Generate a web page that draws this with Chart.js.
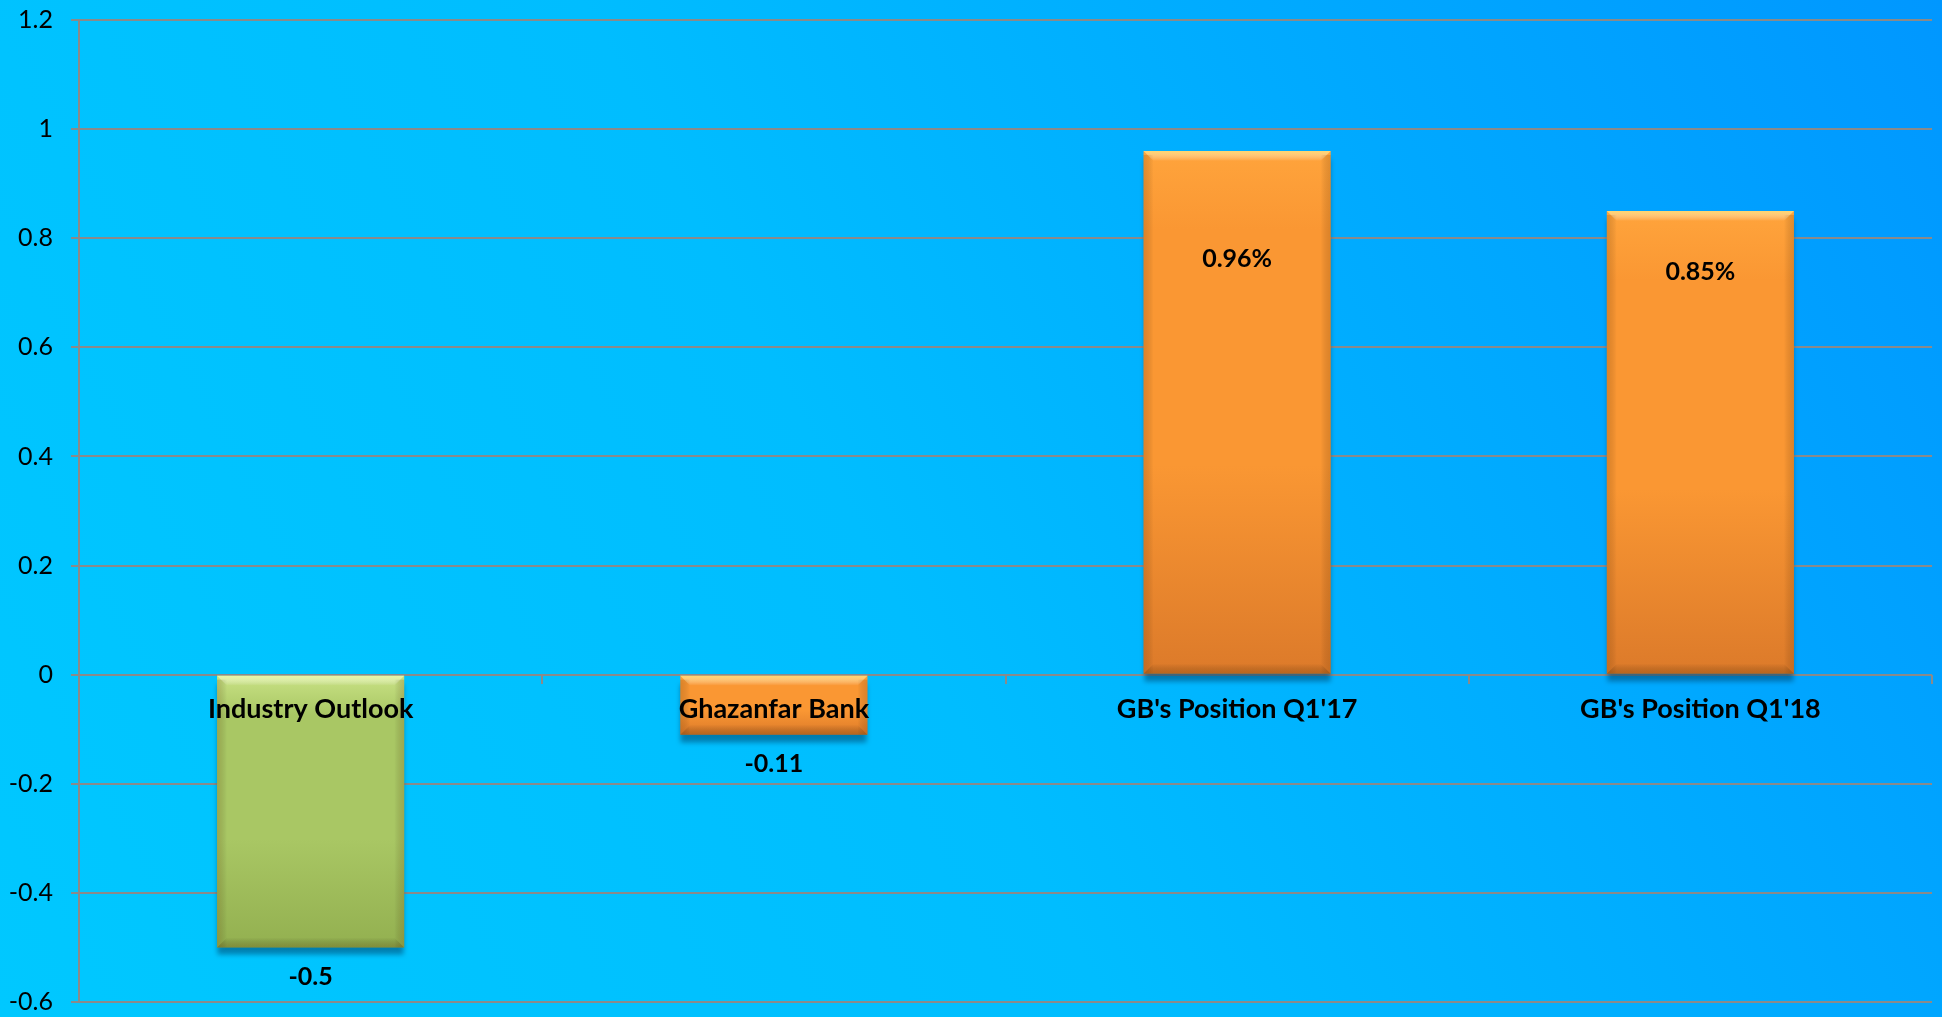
<!DOCTYPE html>
<html><head><meta charset="utf-8">
<script src="https://cdn.jsdelivr.net/npm/chart.js@4"></script>
<style>
html,body{margin:0;padding:0;overflow:hidden;background:#00b4ff}
#wrap{width:1942px;height:1017px;position:relative}
canvas{display:block}
</style></head>
<body><div id="wrap"><canvas id="c" width="1942" height="1017"></canvas></div>
<script>
// ---- data ----
const categories = ["Industry Outlook", "Ghazanfar Bank", "GB's Position Q1'17", "GB's Position Q1'18"];
const values = [-0.5, -0.11, 0.96, 0.85];
const valueLabels = ["-0.5", "-0.11", "0.96%", "0.85%"];
const yTickValues = [-0.6, -0.4, -0.2, 0, 0.2, 0.4, 0.6, 0.8, 1, 1.2];
const barKinds = ["green", "orange", "orange", "orange"];

// ---- styles ----
const FONT = "Lato, 'Open Sans', sans-serif";
const palettes = {
  green:  {top: '#c9e285', mid: '#a9c764', bot: '#93b050', hl: 'rgba(236,250,170,0.85)'},
  orange: {top: '#ffa43c', mid: '#fa9733', bot: '#dc7a2a', hl: 'rgba(255,222,120,0.85)'}
};
const insideLabelOffset = {2: 108, 3: 61};

function barGradient(ctx) {
  const chart = ctx.chart;
  const pal = palettes[barKinds[ctx.dataIndex]];
  if (!chart.chartArea) return pal.mid;
  const ys = chart.scales.y;
  const v = values[ctx.dataIndex];
  const top = ys.getPixelForValue(Math.max(v, 0));
  const bot = ys.getPixelForValue(Math.min(v, 0));
  const g = chart.ctx.createLinearGradient(0, top, 0, bot);
  g.addColorStop(0, pal.top);
  g.addColorStop(0.15, pal.mid);
  g.addColorStop(0.6, pal.mid);
  g.addColorStop(1, pal.bot);
  return g;
}

const bgPlugin = {
  id: 'bg',
  beforeDraw(chart) {
    const c = chart.ctx;
    const g = c.createLinearGradient(0, chart.height, chart.width, 0);
    g.addColorStop(0, '#00c8ff');
    g.addColorStop(0.45, '#00bdff');
    g.addColorStop(1, '#0097ff');
    c.save();
    c.fillStyle = g;
    c.fillRect(0, 0, chart.width, chart.height);
    c.restore();
  }
};

const barFx = {
  id: 'barFx',
  beforeDatasetsDraw(chart) {
    const c = chart.ctx;
    c.save();
    c.shadowColor = 'rgba(0,70,110,0.55)';
    c.shadowOffsetX = 0;
    c.shadowOffsetY = 8;
    c.shadowBlur = 5;
  },
  afterDatasetsDraw(chart) {
    const c = chart.ctx;
    c.restore();
    const meta = chart.getDatasetMeta(0);
    meta.data.forEach((el, i) => {
      const pal = palettes[barKinds[i]];
      const left = el.x - el.width / 2, right = el.x + el.width / 2;
      const top = Math.min(el.y, el.base), bot = Math.max(el.y, el.base);
      const b = 10;
      c.save();
      let g = c.createLinearGradient(0, top, 0, top + b);
      g.addColorStop(0, pal.hl);
      g.addColorStop(1, 'rgba(255,255,255,0)');
      c.fillStyle = g;
      c.beginPath();
      c.moveTo(left, top); c.lineTo(right, top); c.lineTo(right - b, top + b); c.lineTo(left + b, top + b); c.closePath();
      c.fill();
      g = c.createLinearGradient(left, 0, left + b, 0);
      g.addColorStop(0, 'rgba(120,60,0,0.22)'); g.addColorStop(1, 'rgba(0,0,0,0)');
      c.fillStyle = g; c.fillRect(left, top + 4, b, bot - top - 4);
      g = c.createLinearGradient(right, 0, right - b, 0);
      g.addColorStop(0, 'rgba(120,60,0,0.22)'); g.addColorStop(1, 'rgba(0,0,0,0)');
      c.fillStyle = g; c.fillRect(right - b, top + 4, b, bot - top - 4);
      g = c.createLinearGradient(0, bot, 0, bot - b);
      g.addColorStop(0, 'rgba(90,50,0,0.28)'); g.addColorStop(1, 'rgba(0,0,0,0)');
      c.fillStyle = g;
      c.beginPath();
      c.moveTo(left, bot); c.lineTo(right, bot); c.lineTo(right - b, bot - b); c.lineTo(left + b, bot - b); c.closePath();
      c.fill();
      c.restore();
    });
    c.save();
    c.fillStyle = '#000';
    c.font = "bold 25px " + FONT;
    c.textAlign = 'center';
    c.textBaseline = 'middle';
    meta.data.forEach((el, i) => {
      const v = values[i];
      const y = v < 0 ? el.y + 29 : el.y + (insideLabelOffset[i] || 30);
      c.fillText(valueLabels[i], el.x, y);
    });
    c.restore();
  }
};

new Chart(document.getElementById('c'), {
  type: 'bar',
  data: {
    labels: categories,
    datasets: [{
      data: values,
      backgroundColor: barGradient,
      borderWidth: 0,
      barPercentage: 0.404,
      categoryPercentage: 1.0
    }]
  },
  options: {
    responsive: false,
    animation: false,
    devicePixelRatio: 1,
    layout: {padding: {top: 20, bottom: 15, right: 10, left: 0}},
    plugins: {legend: {display: false}, tooltip: {enabled: false}},
    scales: {
      x: {
        position: {y: 0},
        offset: true,
        border: {display: false},
        grid: {display: true, drawOnChartArea: false, drawTicks: true, tickLength: 9, offset: true, color: '#8a8a8a', lineWidth: 2},
        ticks: {z: 1, color: '#000', font: {family: FONT, size: 27, weight: 'bold'}, padding: 9, maxRotation: 0, autoSkip: false}
      },
      y: {
        min: -0.6, max: 1.2,
        afterBuildTicks(scale) { scale.ticks = yTickValues.map(v => ({value: v})); },
        afterFit(scale) { scale.width = 79; scale.paddingTop = 0; scale.paddingBottom = 0; },
        border: {display: true, color: '#8a8a8a', width: 2},
        grid: {color: '#8a8a8a', lineWidth: 2, tickLength: 8, drawTicks: true},
        ticks: {
          color: '#000', font: {family: FONT, size: 25}, padding: 18,
          callback: v => String(Number(Number(v).toFixed(1)))
        }
      }
    }
  },
  plugins: [bgPlugin, barFx]
});
</script>
</body></html>
